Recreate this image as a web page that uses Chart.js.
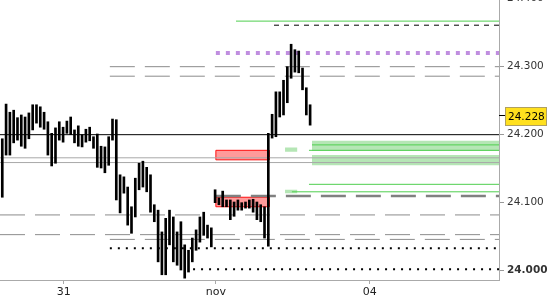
<!DOCTYPE html>
<html>
<head>
<meta charset="utf-8">
<script src="https://cdn.jsdelivr.net/npm/chart.js@4.4.0/dist/chart.umd.min.js"></script>
<style>
html, body { margin: 0; padding: 0; background: #fff; overflow: hidden; }
#wrap { position: absolute; left: 0; top: -22px; width: 550px; height: 322px; }
</style>
</head>
<body>
<div id="wrap"><canvas id="chart" width="550" height="322"></canvas></div>
<script>
// intraday bars, one per slot (index = slot number)
const barHighs = [24.193, 24.244, 24.232, 24.235, 24.224, 24.228, 24.225, 24.231, 24.243, 24.243,
  24.240, 24.232, 24.218, 24.201, 24.209, 24.218, 24.210, 24.219, 24.225, 24.206,
  24.212, 24.199, 24.207, 24.210, 24.196, 24.200, 24.182, 24.181, 24.196, 24.222,
  24.221, 24.140, 24.137, 24.122, 24.093, 24.135, 24.157, 24.160, 24.151, 24.140,
  24.096, 24.088, 24.056, 24.076, 24.088, 24.078, 24.056, 24.071, 24.037, 24.029,
  24.047, 24.059, 24.078, 24.085, 24.066, 24.062, 24.118, 24.106, 24.116, 24.103,
  24.103, 24.100, 24.103, 24.099, 24.100, 24.103, 24.104, 24.100, 24.096, 24.093,
  24.201, 24.229, 24.262, 24.262, 24.279, 24.299, 24.332, 24.324, 24.322, 24.297,
  24.268, 24.243];
const barLows = [24.107, 24.169, 24.169, 24.187, 24.191, 24.182, 24.179, 24.193, 24.206, 24.216,
  24.210, 24.207, 24.169, 24.153, 24.157, 24.191, 24.188, 24.201, 24.199, 24.187,
  24.182, 24.181, 24.188, 24.190, 24.179, 24.151, 24.150, 24.143, 24.154, 24.191,
  24.103, 24.084, 24.113, 24.066, 24.054, 24.078, 24.118, 24.122, 24.115, 24.085,
  24.071, 24.012, 23.993, 23.993, 24.037, 24.012, 24.007, 24.000, 23.988, 23.997,
  24.012, 24.029, 24.041, 24.051, 24.047, 24.034, 24.099, 24.096, 24.093, 24.093,
  24.074, 24.079, 24.088, 24.088, 24.091, 24.091, 24.085, 24.074, 24.071, 24.047,
  24.035, 24.194, 24.196, 24.225, 24.228, 24.246, 24.282, 24.291, 24.290, 24.265,
  24.228, 24.213];
const lastPrice = 24.228;

const dayTicks = [16.2, 56.2, 96.7];
const dayLabels = ['31', 'nov', '04'];
const yTicks = [24.0, 24.1, 24.2, 24.3, 24.4];

// levels: value + slot where the level starts (runs to the right edge)
const solidValues = [24.199];
const solidStarts = [-0.6];
const greyValues = [24.165, 24.158];
const greyStarts = [-0.6, -0.6];
const dashedValues = [24.299, 24.285, 24.081, 24.052, 24.045];
const dashedStarts = [28.3, 28.3, -0.6, -0.6, 28.3];
const dottedValues = [24.032, 24.001];
const dottedStarts = [28.3, 50.2];
const heavyValues = [24.109];
const heavyStarts = [56.2];
const purpleValues = [24.319];
const purpleStarts = [56.2];
const greenValues = [24.366, 24.184, 24.176, 24.126, 24.115];
const greenStarts = [61.5, 81.5, 80.7, 80.7, 76.2];
const blackDashValues = [24.360];
const blackDashStarts = [71.5];

// zones
const redTops = [24.176, 24.107];
const redBottoms = [24.162, 24.093];
const redFrom = 56.2, redTo = 70.2;
const bandTops = [24.190, 24.169];
const bandBottoms = [24.175, 24.154];
const bandFrom = 81.5;
const smallTops = [24.180, 24.118];
const smallBottoms = [24.174, 24.113];
const smallFrom = 74.4, smallTo = 77.6;

const X_MIN = -0.6, X_MAX = 130.7;

function seg(v, start) {
  return [{x: start, y: v}, {x: X_MAX, y: v}];
}
function rect(x1, x2, top, bottom) {
  return [{x: x1, y: top}, {x: x2, y: top}, {x: x2, y: bottom}, {x: x1, y: bottom}, {x: x1, y: top}];
}

const datasets = [];

function addLines(values, starts, color, width, dash) {
  values.forEach((v, i) => {
    datasets.push({
      type: 'line', data: seg(v, starts[i]), borderColor: color, borderWidth: width,
      borderDash: dash, pointRadius: 0, fill: false, order: 1
    });
  });
}
function addBoxes(tops, bottoms, from, to, fillColor, lineColor) {
  tops.forEach((t, i) => {
    datasets.push({
      type: 'line', data: rect(from, to, t, bottoms[i]), backgroundColor: fillColor,
      borderColor: lineColor, borderWidth: lineColor ? 1 : 0, pointRadius: 0,
      fill: 'shape', order: 2
    });
  });
}

addBoxes(bandTops, bandBottoms, bandFrom, X_MAX, '#b5e6b5', null);
addBoxes(smallTops, smallBottoms, smallFrom, smallTo, '#b5e6b5', null);
addBoxes(redTops, redBottoms, redFrom, redTo, '#ff9a9a', '#ff1010');

addLines(greyValues, greyStarts, '#a8a8a8', 1, []);
addLines(dashedValues, dashedStarts, '#8c8c8c', 1, [25, 10]);
addLines(heavyValues, heavyStarts, '#808080', 2.5, [25, 10]);
addLines(solidValues, solidStarts, '#000', 1, []);
addLines(dottedValues, dottedStarts, '#000', 2, [2, 6]);
addLines(purpleValues, purpleStarts, '#c08ee0', 4, [4, 6]);
addLines(greenValues, greenStarts, '#4fcf4f', 1, []);
addLines(blackDashValues, blackDashStarts, '#000', 1, [5, 5]);

datasets.push({
  type: 'bar',
  data: barHighs.map((h, i) => ({x: i, y: [barLows[i], h]})),
  backgroundColor: '#000',
  barThickness: 2,
  order: 0
});

// yellow last price tag on the price axis
const lastTag = {
  id: 'lastTag',
  afterDraw(chart) {
    const ctx = chart.ctx;
    const y = Math.round(chart.scales.y.getPixelForValue(lastPrice));
    const x0 = chart.chartArea.right;
    ctx.save();
    ctx.strokeStyle = '#000';
    ctx.lineWidth = 1;
    ctx.beginPath();
    ctx.moveTo(x0, y + 0.5);
    ctx.lineTo(x0 + 6, y + 0.5);
    ctx.stroke();
    ctx.fillStyle = '#ffe01e';
    ctx.fillRect(x0 + 6, y - 8, 42, 19);
    ctx.strokeStyle = '#b0a060';
    ctx.strokeRect(x0 + 6.5, y - 7.5, 41, 18);
    ctx.fillStyle = '#000';
    ctx.font = '10.5px "DejaVu Sans"';
    ctx.textBaseline = 'middle';
    ctx.fillText(lastPrice.toFixed(3), x0 + 9, y + 2);
    ctx.restore();
  }
};

new Chart(document.getElementById('chart').getContext('2d'), {
  type: 'bar',
  data: { datasets },
  plugins: [lastTag],
  options: {
    responsive: false,
    animation: false,
    events: [],
    layout: { padding: { top: 20, left: 0, right: 0, bottom: 0 } },
    plugins: { legend: { display: false }, tooltip: { enabled: false } },
    scales: {
      x: {
        type: 'linear', min: X_MIN, max: X_MAX, offset: false,
        afterBuildTicks: s => { s.ticks = dayTicks.map(v => ({value: v})); },
        afterFit: s => { s.height = 20; },
        grid: { drawOnChartArea: false, tickLength: 4, color: '#aaa', offset: false },
        border: { color: '#aaa' },
        ticks: {
          color: '#222', padding: 2, maxRotation: 0, autoSkip: false,
          font: { family: 'DejaVu Sans', size: 11 },
          callback: (v, i) => dayLabels[i]
        }
      },
      y: {
        type: 'linear', position: 'right', min: 23.9853, max: 24.4,
        afterBuildTicks: s => { s.ticks = yTicks.map(v => ({value: v})); },
        afterFit: s => { s.width = 51; },
        grid: { drawOnChartArea: false, tickLength: 5, color: '#999' },
        border: { color: '#aaa' },
        ticks: {
          color: '#333', padding: 3, autoSkip: false,
          font: c => ({ family: 'DejaVu Sans', size: 10.5, weight: (c.tick && c.tick.value === 24) ? 'bold' : 'normal' }),
          callback: v => Number(v).toFixed(3)
        }
      }
    }
  }
});
</script>
</body>
</html>
